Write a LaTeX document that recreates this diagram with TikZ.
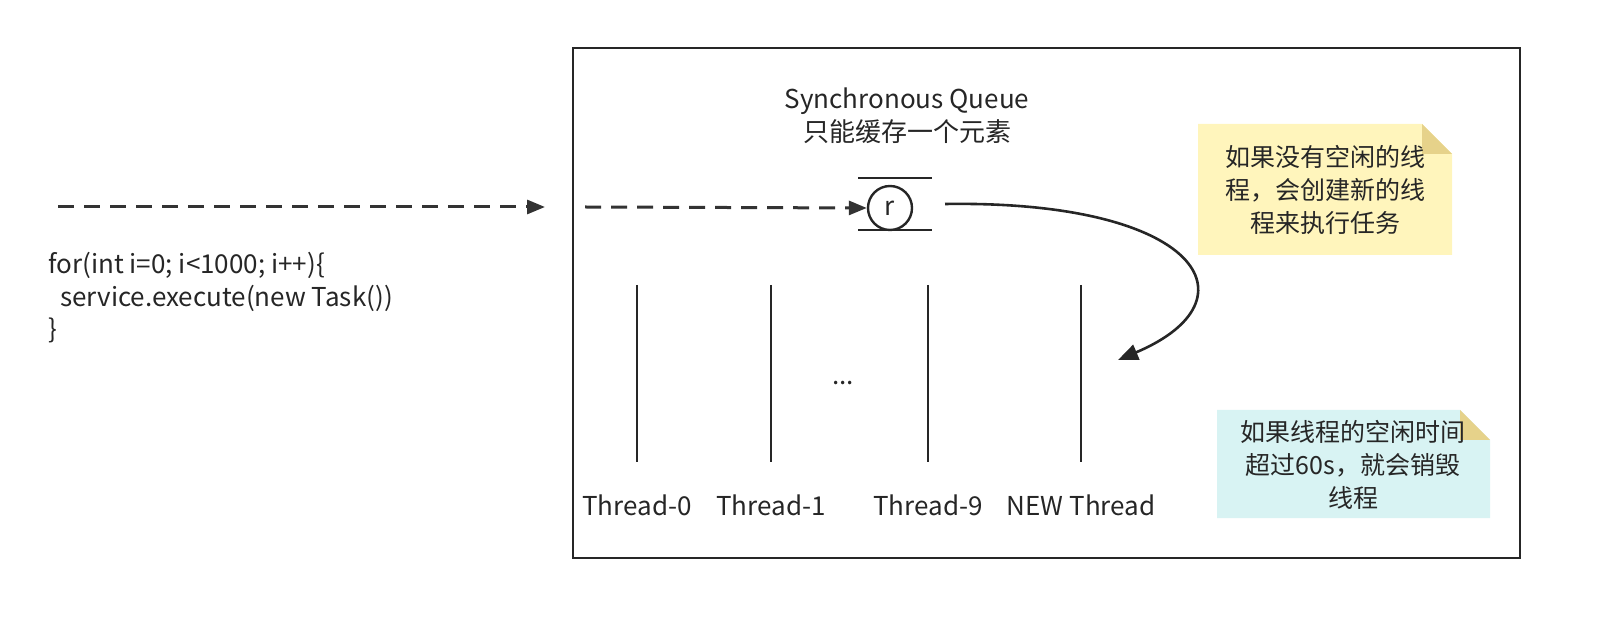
\documentclass[tikz,border=0pt]{standalone}
\usepackage{fontspec}
\setmainfont{Noto Sans CJK SC}
\usetikzlibrary{arrows.meta}
\definecolor{ny}{HTML}{FFF5BC}
\definecolor{nf}{HTML}{E6D28A}
\definecolor{nc}{HTML}{D8F3F3}
\begin{document}
\begin{tikzpicture}[x=0.5pt,y=-0.5pt,
  lbl/.style={font=\fontsize{13}{16}\selectfont,text=black!85,inner sep=0},
  dasharrow/.style={draw=black!80,line width=1.5pt,dash pattern=on 8pt off 5pt,-{Triangle[length=9pt,width=7pt]}},
  vl/.style={draw=black!85,line width=1.2pt},
  note/.style={align=center,font=\fontsize{12.5}{16.5}\selectfont,text=black!85}]
\useasboundingbox (0,0) rectangle (1599,619);
\draw[black!85,line width=1.2pt] (573,48) rectangle (1520,558);
\coordinate (s1) at (58,207); \coordinate (e1) at (545,207);
\coordinate (s2) at (585,207);
\node[circle,draw=black!85,line width=1.2pt,minimum size=22pt,inner sep=0,lbl] (r) at (890,208) {r};
\draw[vl] (858,178) -- (932,178) (858,230) -- (932,230);
\draw[dasharrow] (s1) -- (e1);
\draw[dasharrow] (s2) -- (r.west);
\coordinate (c0) at (945,204); \coordinate (c1) at (1118,360);
\draw[draw=black!85,line width=1.3pt,-{Triangle[length=10pt,width=8pt]}] (c0) .. controls (1200,200) and (1260,300) .. (c1);
\foreach \x/\n/\t in {637/a/Thread-0,771/b/Thread-1,928/c/Thread-9,1081/d/NEW Thread}{
  \coordinate (t\n) at (\x,285); \coordinate (u\n) at (\x,462);
  \draw[vl] (t\n) -- (u\n);
  \node[lbl] (l\n) at (\x,505) {\t};}
\node[lbl] (dots) at (843,383) {...};
\node[lbl,align=center,font=\fontsize{13}{16.5}\selectfont] (title) at (907,116) {Synchronous Queue\\只能缓存一个元素};
\node[lbl,align=left,anchor=north west,font=\fontsize{13}{16.3}\selectfont] (code) at (48,252) {for(int i=0; i<1000; i++)\{\\\ \ service.execute(new Task())\\\}};
\fill[fill=ny] (1198,124) -- (1422,124) -- (1452,154) -- (1452,255) -- (1198,255) -- cycle;
\fill[fill=nf] (1422,124) -- (1452,154) -- (1422,154) -- cycle;
\node[note] (n1) at (1325,190) {如果没有空闲的线\\程，会创建新的线\\程来执行任务};
\fill[fill=nc] (1217,410) -- (1460,410) -- (1490,440) -- (1490,518) -- (1217,518) -- cycle;
\fill[fill=nf] (1460,410) -- (1490,440) -- (1460,440) -- cycle;
\node[note] (n2) at (1353,465) {如果线程的空闲时间\\超过60s，就会销毁\\线程};
\end{tikzpicture}
\end{document}
